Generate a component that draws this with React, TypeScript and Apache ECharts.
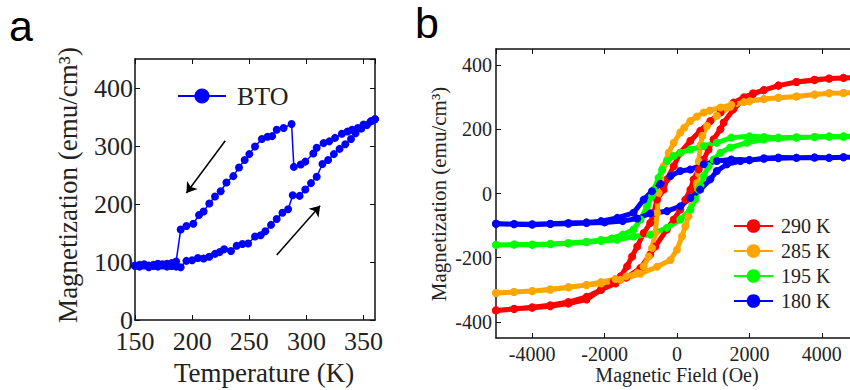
import React, { useEffect, useRef } from "react";
import * as echarts from "echarts";

// ---------- Panel a: BTO M(T) ----------
const coolT = [360, 356, 350, 345, 340, 336, 331, 325, 320, 315, 309, 306, 299, 295, 289, 287, 280, 274, 270, 266, 261, 255, 250, 246, 241, 236, 230, 225, 220, 215, 210, 206, 201, 195, 190, 186, 182, 178, 174, 170, 166, 162, 158, 154, 150];
const coolM = [346, 342, 337, 331, 328, 325, 321, 314, 308, 305, 297, 287, 273, 268, 264, 338, 331, 328, 317, 316, 312, 299, 286, 276, 263, 248, 237, 222, 213, 201, 187, 181, 166, 162, 156, 101, 98, 97, 96, 97, 95, 94, 96, 95, 94];
const heatT = [150, 154, 158, 162, 166, 170, 174, 178, 182, 186, 190, 195, 200, 205, 210, 215, 220, 224, 228, 234, 239, 244, 249, 255, 260, 264, 269, 274, 279, 284, 288, 294, 299, 304, 309, 314, 319, 324, 329, 334, 339, 343, 348, 353, 357, 360];
const heatM = [93, 92, 94, 91, 93, 92, 94, 92, 93, 92, 91, 102, 103, 107, 106, 109, 114, 117, 122, 119, 128, 131, 132, 144, 146, 153, 164, 174, 185, 191, 215, 214, 225, 236, 247, 269, 276, 286, 295, 303, 312, 322, 330, 336, 343, 346];
const arrowCool = [[229, 309], [195, 219]];
const arrowHeat = [[274, 112], [312, 197]];

// ---------- Panel b: M(H) loops ----------
const redDownH = [5000, 4600, 4200, 3800, 3300, 2800, 2400, 2100, 1850, 1560, 1200, 920, 640, 370, 90, -90, -280, -370, -550, -640, -740, -920, -1100, -1240, -1380, -1560, -1750, -2100, -2500, -3000, -3500, -4000, -4500, -5000];
const redDownM = [361, 360, 358, 354, 347, 336, 322, 310, 300, 283, 252, 226, 195, 164, 127, 85, 44, 12, -19, -60, -92, -123, -165, -196, -227, -258, -274, -300, -322, -338, -348, -354, -360, -364];
const redUpH = [-5000, -4500, -4000, -3500, -3000, -2500, -2100, -1700, -1400, -1010, -740, -600, -280, -90, 90, 230, 370, 460, 600, 740, 870, 1010, 1200, 1290, 1560, 1850, 2100, 2400, 2800, 3300, 3800, 4200, 4600, 5000];
const redUpM = [-364, -359, -356, -351, -343, -330, -300, -280, -262, -232, -190, -165, -112, -81, -50, -19, 12, 44, 75, 106, 137, 169, 200, 221, 262, 295, 312, 322, 336, 347, 353, 358, 360, 361];

const orangeDownH = [5000, 4600, 4200, 3800, 3300, 2800, 2400, 2000, 1500, 1200, 900, 740, 550, 370, 200, 90, -90, -230, -370, -460, -510, -550, -600, -690, -780, -920, -1100, -1400, -1700, -2100, -2500, -3000, -3500, -4000, -4500, -5000];
const orangeDownM = [315, 313, 312, 308, 302, 298, 294, 287, 276, 268, 258, 252, 240, 226, 205, 190, 158, 127, 85, 44, 2, -60, -123, -170, -196, -227, -248, -258, -266, -276, -285, -292, -298, -304, -307, -310];
const orangeUpH = [-5000, -4500, -4000, -3500, -3000, -2500, -2100, -1560, -1010, -550, -180, 0, 140, 230, 320, 410, 550, 600, 650, 700, 830, 1100, 1470, 1850, 2400, 2800, 3300, 3800, 4200, 4600, 5000];
const orangeUpM = [-310, -307, -304, -300, -292, -285, -280, -269, -250, -228, -207, -175, -133, -102, -71, -19, 33, 100, 150, 180, 210, 242, 270, 285, 294, 298, 302, 308, 312, 313, 315];

const greenDownH = [5000, 4600, 4200, 3800, 3300, 2800, 2400, 2000, 1500, 1100, 740, 370, 90, -90, -280, -410, -510, -640, -690, -830, -1010, -1200, -1500, -1800, -2100, -2500, -3000, -3500, -4000, -4500, -5000];
const greenDownM = [179, 177, 178, 176, 175, 174, 176, 178, 174, 158, 148, 137, 127, 117, 101, 75, 49, 12, -8, -40, -81, -112, -128, -140, -145, -150, -154, -157, -159, -159, -160];
const greenUpH = [-5000, -4500, -4000, -3500, -3000, -2500, -2100, -1650, -1200, -740, -280, 90, 370, 500, 600, 650, 740, 870, 1010, 1200, 1470, 1930, 2400, 2800, 3300, 3800, 4200, 4600, 5000];
const greenUpM = [-160, -159, -160, -158, -156, -152, -148, -144, -134, -128, -107, -81, -50, -19, 12, 23, 54, 85, 106, 127, 143, 158, 168, 172, 174, 176, 177, 178, 179];

const blueDownH = [5000, 4600, 4200, 3800, 3300, 2800, 2400, 2000, 1500, 1100, 740, 370, 90, -180, -460, -690, -920, -1200, -1650, -2100, -2500, -3000, -3500, -4000, -4500, -5000];
const blueDownM = [112, 113, 111, 112, 111, 112, 110, 104, 106, 101, 91, 75, 70, 54, 30, 7, -19, -60, -76, -86, -90, -92, -94, -96, -95, -94];
const blueUpH = [-5000, -4500, -4000, -3500, -3000, -2500, -2000, -1500, -1100, -740, -280, 90, 370, 640, 920, 1100, 1380, 1750, 2000, 2400, 2800, 3300, 3800, 4200, 4600, 5000];
const blueUpM = [-94, -96, -97, -95, -94, -92, -90, -86, -78, -62, -55, -40, -14, 12, 44, 70, 91, 101, 104, 108, 110, 111, 112, 111, 113, 112];

const loopNames = ["290 K", "285 K", "195 K", "180 K"];
const loopColors = ["#ff0000", "#ffa500", "#00ff00", "#0000ff"];

const zip = (xs: number[], ys: number[]) => xs.map((x, i) => [x, ys[i]]);

const SERIF = "Liberation Serif";
const SANS = "Liberation Sans";
const plain = (v: number) => String(v);

export default function App() {
  const ref = useRef<HTMLDivElement>(null);
  useEffect(() => {
    const chart = echarts.init(ref.current!, null, { renderer: "svg" });

    const loops = [
      zip(redDownH, redDownM).concat(zip(redUpH, redUpM)),
      zip(orangeDownH, orangeDownM).concat(zip(orangeUpH, orangeUpM)),
      zip(greenDownH, greenDownM).concat(zip(greenUpH, greenUpM)),
      zip(blueDownH, blueDownM).concat(zip(blueUpH, blueUpM)),
    ];

    const mkLine = () => ({ show: true, onZero: false, lineStyle: { color: "#111", width: 1.5 } });
    const mkTick = () => ({ show: true, inside: true, length: 5, lineStyle: { color: "#111", width: 1 } });

    const option: any = {
      animation: false,
      backgroundColor: "#fff",
      grid: [
        { left: 135, top: 59, width: 240, height: 261 },
        { left: 496, top: 49, width: 362, height: 289 },
      ],
      xAxis: [
        {
          gridIndex: 0, type: "value", position: "bottom", min: 150, max: 360, interval: 50,
          axisLine: mkLine(), axisTick: mkTick(), splitLine: { show: false },
          axisLabel: { fontFamily: SERIF, fontSize: 26, lineHeight: 18, color: "#222", margin: 12, showMaxLabel: false, formatter: plain },
        },
        {
          gridIndex: 0, type: "value", position: "top", min: 150, max: 360, interval: 50,
          axisLine: mkLine(), axisTick: mkTick(), splitLine: { show: false }, axisLabel: { show: false },
        },
        {
          gridIndex: 1, type: "value", position: "bottom", min: -5000, max: 5000, splitNumber: 5,
          axisLine: mkLine(), axisTick: mkTick(), splitLine: { show: false },
          axisLabel: { fontFamily: SERIF, fontSize: 20, color: "#222", margin: 6, showMinLabel: false, showMaxLabel: false, formatter: plain },
        },
        {
          gridIndex: 1, type: "value", position: "top", min: -5000, max: 5000, splitNumber: 5,
          axisLine: mkLine(), axisTick: mkTick(), splitLine: { show: false }, axisLabel: { show: false },
        },
      ],
      yAxis: [
        {
          gridIndex: 0, type: "value", position: "left", min: 0, max: 450, interval: 100,
          axisLine: mkLine(), axisTick: mkTick(), splitLine: { show: false },
          axisLabel: { fontFamily: SERIF, fontSize: 26, lineHeight: 18, color: "#222", margin: 2, showMaxLabel: false, formatter: plain },
        },
        {
          gridIndex: 0, type: "value", position: "right", min: 0, max: 450, interval: 100,
          axisLine: mkLine(), axisTick: mkTick(), splitLine: { show: false }, axisLabel: { show: false },
        },
        {
          gridIndex: 1, type: "value", position: "left", min: -450, max: 450, splitNumber: 5,
          axisLine: mkLine(), axisTick: mkTick(), splitLine: { show: false },
          axisLabel: { fontFamily: SERIF, fontSize: 20, color: "#222", margin: 4, showMinLabel: false, showMaxLabel: false, formatter: plain },
        },
        {
          gridIndex: 1, type: "value", position: "right", min: -450, max: 450, splitNumber: 5,
          axisLine: mkLine(), axisTick: mkTick(), splitLine: { show: false }, axisLabel: { show: false },
        },
      ],
      legend: [
        {
          data: ["BTO"], left: 172, top: 78, orient: "vertical",
          itemWidth: 48, itemHeight: 19,
          textStyle: { fontFamily: SERIF, fontSize: 26, color: "#222", padding: [0, 0, 0, 6] },
        },
        {
          data: loopNames, left: 728, top: 211, orient: "vertical",
          itemWidth: 39, itemHeight: 17, itemGap: 5,
          lineStyle: { width: 2 },
          textStyle: { fontFamily: SERIF, fontSize: 20, lineHeight: 20, color: "#222", padding: [0, 0, 0, 3] },
        },
      ],
      series: [
        {
          name: "BTO", type: "line", xAxisIndex: 0, yAxisIndex: 0,
          data: zip(coolT, coolM).concat(zip(heatT, heatM)),
          symbol: "circle", symbolSize: 8,
          itemStyle: { color: "#0000ff" },
          lineStyle: { color: "#0000ff", width: 1.5 },
          markLine: {
            silent: true,
            symbol: ["none", "arrow"],
            symbolSize: 10,
            label: { show: false },
            lineStyle: { color: "#000", width: 1.5, type: "solid" },
            data: [
              [{ coord: arrowCool[0] }, { coord: arrowCool[1] }],
              [{ coord: arrowHeat[0] }, { coord: arrowHeat[1] }],
            ],
          },
        },
        ...loops.map((d, i) => ({
          name: loopNames[i], type: "line", xAxisIndex: 2, yAxisIndex: 2,
          data: d, symbol: "circle", symbolSize: 8,
          itemStyle: { color: loopColors[i] },
          lineStyle: { color: loopColors[i], width: 5 },
        })),
      ],
      graphic: [
        { type: "text", left: 9, top: 4, style: { text: "a", font: `43px "${SANS}"`, fill: "#000" } },
        { type: "text", left: 415, top: 1, style: { text: "b", font: `43px "${SANS}"`, fill: "#000" } },
        {
          type: "text", x: 264, y: 373,
          style: { text: "Temperature (K)", font: `27px "${SERIF}"`, fill: "#222", textAlign: "center", textVerticalAlign: "middle", align: "center", verticalAlign: "middle" },
        },
        {
          type: "text", x: 68, y: 185, rotation: Math.PI / 2,
          style: { text: "Magnetization (emu/cm³)", font: `27px "${SERIF}"`, fill: "#222", textAlign: "center", textVerticalAlign: "middle", align: "center", verticalAlign: "middle" },
        },
        {
          type: "text", x: 677, y: 375,
          style: { text: "Magnetic Field (Oe)", font: `20px "${SERIF}"`, fill: "#222", textAlign: "center", textVerticalAlign: "middle", align: "center", verticalAlign: "middle" },
        },
        {
          type: "text", x: 439, y: 194, rotation: Math.PI / 2,
          style: { text: "Magnetization (emu/cm³)", font: `21px "${SERIF}"`, fill: "#222", textAlign: "center", textVerticalAlign: "middle", align: "center", verticalAlign: "middle" },
        },
      ],
    };

    chart.setOption(option);
    return () => chart.dispose();
  }, []);

  return (
    <div style={{ position: "fixed", left: 0, top: 0, width: 850, height: 390, overflow: "hidden", background: "#fff" }}>
      <div ref={ref} style={{ width: 870, height: 390 }} />
    </div>
  );
}
